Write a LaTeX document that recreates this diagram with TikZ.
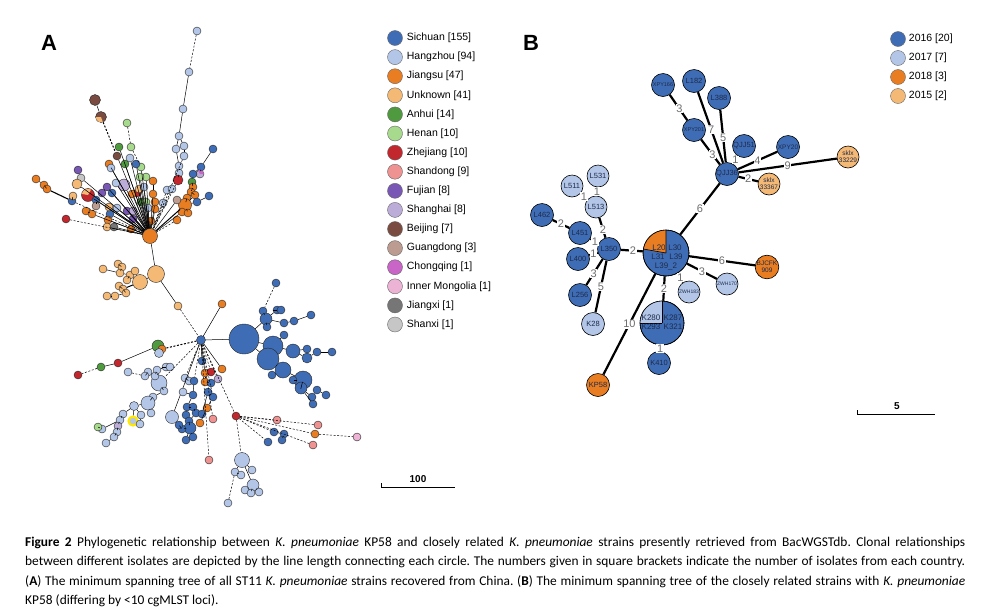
\documentclass[tikz,border=0pt]{standalone}
\usepackage{fontspec}
\setmainfont{Liberation Sans}
\newfontfamily\capfont{Carlito}
\usepackage{tikz}
\usetikzlibrary{positioning}
\definecolor{csic}{HTML}{3F6DB5}
\definecolor{chzh}{HTML}{B3C6E7}
\definecolor{cjsu}{HTML}{E87D22}
\definecolor{cunk}{HTML}{F5B976}
\definecolor{canh}{HTML}{4F9A3F}
\definecolor{chen}{HTML}{A8DA8D}
\definecolor{czhe}{HTML}{C1272D}
\definecolor{csha}{HTML}{EE9292}
\definecolor{cfuj}{HTML}{7957B5}
\definecolor{cshg}{HTML}{BBADD8}
\definecolor{cbei}{HTML}{7A4B40}
\definecolor{cgdg}{HTML}{BC9C90}
\definecolor{cchq}{HTML}{C865C6}
\definecolor{cinm}{HTML}{EDB3D4}
\definecolor{cjxi}{HTML}{767676}
\definecolor{cshx}{HTML}{C6C6C6}
\definecolor{navy}{HTML}{1E2B4A}
\definecolor{elgray}{HTML}{6E6E6E}
\begin{document}
\frenchspacing
\begin{tikzpicture}
[pa/.style={circle, draw=black!85, line width=0.4pt, inner sep=0pt, minimum size=8pt},
 dia/.style={minimum size=#1pt},
 Sic/.style={pa, fill=csic}, Hzh/.style={pa, fill=chzh}, Jsu/.style={pa, fill=cjsu},
 Unk/.style={pa, fill=cunk}, Anh/.style={pa, fill=canh}, Hen/.style={pa, fill=chen},
 Zhe/.style={pa, fill=czhe}, Sha/.style={pa, fill=csha}, Fuj/.style={pa, fill=cfuj},
 Shg/.style={pa, fill=cshg}, Bei/.style={pa, fill=cbei}, Gdg/.style={pa, fill=cgdg},
 Chq/.style={pa, fill=cchq}, Inm/.style={pa, fill=cinm}, Jxi/.style={pa, fill=cjxi},
 Shx/.style={pa, fill=cshx},
 ea/.style={line width=0.5pt},
 ed/.style={line width=0.5pt, dash pattern=on 2pt off 1.6pt},
 lgdot/.style={circle, draw=black!60, line width=0.4pt, inner sep=0pt, minimum size=15pt},
 ltext/.style={inner sep=0pt, font=\fontsize{10.5}{12}\selectfont},
 bnode/.style={circle, draw=black, line width=0.6pt, inner sep=0pt, minimum size=23pt,
   text=navy, align=center, font=\fontsize{7.5}{7.5}\selectfont},
 btext/.style={inner sep=0pt, text=navy, font=\fontsize{8}{8}\selectfont},
 blink/.style={line width=2.2pt},
 elab/.style={fill=white, inner sep=0.6pt, text=elgray, font=\fontsize{11}{11}\selectfont}]
\useasboundingbox (0pt,0pt) rectangle (987pt,-611pt);
% panel labels
\node (pA) [font=\bfseries\fontsize{22}{22}\selectfont] at (49pt,-43pt) {A};
\node (pB) [font=\bfseries\fontsize{22}{22}\selectfont] at (531pt,-43pt) {B};
% ---- panel A: upper cluster
\node (t0) [Jsu, dia=15] at (150pt,-236pt) {};
\node (t1) [Hzh] at (197pt,-31pt) {};
\node (t2) [Hzh] at (189pt,-72pt) {};
\node (t3) [Hzh] at (183pt,-109pt) {};
\node (t4) [Hzh] at (179pt,-136pt) {};
\node (t5) [Hzh] at (176pt,-149pt) {};
\node (t6) [Hzh] at (184pt,-146pt) {};
\node (t7) [Hzh] at (184pt,-156pt) {};
\node (t8) [Hzh] at (179pt,-166pt) {};
\node (t9) [Hzh] at (179pt,-173pt) {};
\node (t10) [Zhe, dia=10] at (178pt,-180pt) {};
\node (t11) [Bei, dia=11] at (95pt,-100pt) {};
\node (t12) [Bei, dia=11] at (101pt,-117pt) {};
\fill [cunk] (t12.center) -- ++(180:5.2pt) arc[start angle=180, end angle=290, radius=5.2pt] -- cycle;
\node (t13) [Bei] at (117pt,-156pt) {};
\node (t14) [Anh] at (119pt,-147pt) {};
\node (t15) [Hen] at (127pt,-123pt) {};
\node (t16) [Hen] at (131pt,-147pt) {};
\node (t17) [Hen] at (141pt,-167pt) {};
\node (t18) [Hen] at (146pt,-177pt) {};
\node (t19) [Hen] at (140pt,-177pt) {};
\node (t20) [Anh] at (125pt,-164pt) {};
\node (t21) [Sic] at (136pt,-164pt) {};
\node (t22) [Hzh] at (130pt,-158pt) {};
\node (t23) [Jsu] at (109pt,-164pt) {};
\node (t24) [Hzh] at (111pt,-168pt) {};
\node (t25) [Fuj] at (78pt,-170pt) {};
\node (t26) [Shx] at (81pt,-178pt) {};
\node (t27) [Unk, dia=10] at (77pt,-184pt) {};
\node (t28) [Jsu] at (36pt,-179pt) {};
\node (t29) [Jsu] at (44pt,-185pt) {};
\node (t30) [Jsu] at (47pt,-189pt) {};
\node (t31) [Sic] at (72pt,-201pt) {};
\node (t32) [Unk] at (73pt,-196pt) {};
\node (t33) [Zhe, dia=13] at (88pt,-195pt) {};
\fill [cunk] (t33.center) -- ++(60:6.2pt) arc[start angle=60, end angle=170, radius=6.2pt] -- cycle;
\node (t34) [Fuj] at (107pt,-187pt) {};
\node (t35) [Fuj] at (102pt,-193pt) {};
\node (t36) [Sic] at (112pt,-193pt) {};
\node (t37) [Shg, dia=12] at (124pt,-185pt) {};
\node (t38) [Hzh] at (116pt,-183pt) {};
\node (t39) [Sic] at (96pt,-200pt) {};
\node (t40) [Gdg] at (96pt,-206pt) {};
\node (t41) [Jsu] at (86pt,-211pt) {};
\node (t42) [Jsu] at (92pt,-214pt) {};
\node (t43) [Sic] at (110pt,-214pt) {};
\node (t44) [Unk] at (109pt,-207pt) {};
\node (t45) [Hzh] at (117pt,-208pt) {};
\node (t46) [Jsu] at (108pt,-220pt) {};
\node (t47) [Unk] at (107pt,-227pt) {};
\node (t48) [Jxi] at (114pt,-227pt) {};
\node (t49) [Zhe] at (66pt,-219pt) {};
\node (t50) [Jsu] at (131pt,-229pt) {};
\node (t51) [Fuj] at (127pt,-211pt) {};
\node (t52) [Fuj] at (133pt,-219pt) {};
\node (t53) [Shg] at (133pt,-211pt) {};
\node (t54) [Anh] at (141pt,-202pt) {};
\node (t55) [Hen] at (146pt,-202pt) {};
\node (t56) [Zhe] at (137pt,-193pt) {};
\node (t57) [Jsu] at (132pt,-194pt) {};
\node (t58) [Unk] at (139pt,-189pt) {};
\node (t59) [Hzh] at (144pt,-187pt) {};
\node (t60) [Jsu] at (153pt,-181pt) {};
\node (t61) [Jsu] at (153pt,-194pt) {};
\node (t62) [Jsu] at (155pt,-202pt) {};
\node (t63) [Jsu] at (155pt,-209pt) {};
\node (t64) [Hzh] at (148pt,-208pt) {};
\node (t65) [Jsu] at (151pt,-221pt) {};
\node (t66) [Hzh] at (163pt,-203pt) {};
\node (t67) [Hzh] at (167pt,-190pt) {};
\node (t68) [Hzh] at (172pt,-189pt) {};
\node (t69) [Jsu] at (177pt,-220pt) {};
\node (t70) [Sic] at (213pt,-149pt) {};
\node (t71) [Sic] at (201pt,-167pt) {};
\node (t72) [Shg] at (200pt,-174pt) {};
\fill [cchq] (t72.center) -- ++(0:3.8pt) arc[start angle=0, end angle=120, radius=3.8pt] -- cycle;
\node (t73) [Sic] at (193pt,-174pt) {};
\node (t74) [Anh] at (192pt,-182pt) {};
\node (t75) [Jsu] at (193pt,-187pt) {};
\node (t76) [Jsu] at (191pt,-192pt) {};
\node (t77) [Jsu] at (195pt,-195pt) {};
\node (t78) [Jsu] at (187pt,-198pt) {};
\node (t79) [Jsu, dia=13] at (185pt,-205pt) {};
\node (t80) [Jsu] at (182pt,-212pt) {};
\node (t81) [Jsu] at (188pt,-213pt) {};
\node (t82) [Sic] at (197pt,-202pt) {};
\node (t83) [Sic] at (209pt,-196pt) {};
\node (t84) [Gdg] at (177pt,-200pt) {};
\draw [ed] (t1) -- (t2);
\draw [ea] (t2) -- (t3);
\draw [ea] (t3) -- (t4);
\draw [ea] (t4) -- (t5);
\draw [ea] (t4) -- (t6);
\draw [ea] (t6) -- (t7);
\draw [ea] (t5) -- (t8);
\draw [ea] (t8) -- (t9);
\draw [ea] (t9) -- (t10);
\draw [ed] (t10) -- (t0);
\draw [ed] (t7) -- (t0);
\draw [ea] (t11) -- (t12);
\draw [ed, line width=1pt] (t12) -- (t13);
\draw [ea] (t13) -- (t0);
\draw [ea] (t14) -- (t0);
\draw [ed] (t15) -- (t16);
\draw [ed] (t16) -- (t17);
\draw [ea] (t17) -- (t0);
\draw [ea] (t18) -- (t0);
\draw [ea] (t19) -- (t0);
\draw [ea] (t20) -- (t0);
\draw [ea] (t21) -- (t0);
\draw [ea] (t22) -- (t0);
\draw [ea] (t23) -- (t0);
\draw [ea] (t24) -- (t0);
\draw [ea] (t25) -- (t26);
\draw [ea] (t26) -- (t0);
\draw [ea] (t27) -- (t0);
\draw [ea] (t28) -- (t29);
\draw [ea] (t29) -- (t30);
\draw [line width=1.1pt] (t30) -- (t31);
\draw [ed] (t31) -- (t0);
\draw [ea] (t32) -- (t31);
\draw [ea] (t33) -- (t0);
\draw [ea] (t34) -- (t0);
\draw [ea] (t35) -- (t34);
\draw [ea] (t36) -- (t0);
\draw [ea] (t37) -- (t0);
\draw [ea] (t38) -- (t0);
\draw [ea] (t39) -- (t0);
\draw [ea] (t40) -- (t39);
\draw [ea] (t41) -- (t42);
\draw [ea] (t42) -- (t0);
\draw [ea] (t43) -- (t0);
\draw [ea] (t44) -- (t0);
\draw [ea] (t45) -- (t0);
\draw [ea] (t46) -- (t0);
\draw [ea] (t47) -- (t0);
\draw [ea] (t48) -- (t0);
\draw [ed] (t49) -- (t0);
\draw [ea] (t50) -- (t0);
\draw [ea] (t51) -- (t0);
\draw [ea] (t52) -- (t0);
\draw [ea] (t53) -- (t0);
\draw [ea] (t54) -- (t0);
\draw [ea] (t55) -- (t0);
\draw [ea] (t56) -- (t0);
\draw [ea] (t57) -- (t0);
\draw [ea] (t58) -- (t0);
\draw [ea] (t59) -- (t0);
\draw [ea] (t60) -- (t61);
\draw [ea] (t61) -- (t0);
\draw [ea] (t62) -- (t0);
\draw [ea] (t63) -- (t0);
\draw [ea] (t64) -- (t0);
\draw [ea] (t65) -- (t0);
\draw [ed] (t66) -- (t0);
\draw [ed] (t67) -- (t0);
\draw [ed] (t68) -- (t0);
\draw [ed] (t69) -- (t0);
\draw [ea] (t70) -- (t71);
\draw [ea] (t71) -- (t73);
\draw [ea] (t72) -- (t71);
\draw [ea] (t73) -- (t74);
\draw [ea] (t74) -- (t75);
\draw [ea] (t75) -- (t76);
\draw [ea] (t76) -- (t77);
\draw [ea] (t77) -- (t79);
\draw [ea] (t78) -- (t79);
\draw [line width=1pt] (t79) -- (t0);
\draw [ea] (t80) -- (t0);
\draw [ea] (t81) -- (t79);
\draw [ea] (t82) -- (t79);
\draw [ea] (t83) -- (t82);
\draw [ea] (t84) -- (t0);
% ---- panel A: unknown cluster
\node (u0) [Unk, dia=17] at (156pt,-274pt) {};
\node (u1) [Unk, dia=15] at (140pt,-282pt) {};
\node (u2) [Unk] at (103pt,-269pt) {};
\node (u3) [Unk] at (118pt,-264pt) {};
\node (u4) [Unk] at (122pt,-267pt) {};
\node (u5) [Unk] at (120pt,-273pt) {};
\node (u6) [Unk] at (130pt,-275pt) {};
\node (u7) [Unk] at (127pt,-280pt) {};
\node (u8) [Unk] at (135pt,-271pt) {};
\node (u10) [Unk] at (119pt,-286pt) {};
\node (u11) [Unk] at (123pt,-289pt) {};
\node (u12) [Unk] at (126pt,-293pt) {};
\node (u13) [Unk] at (107pt,-296pt) {};
\node (u14) [Unk] at (115pt,-296pt) {};
\node (u15) [Unk] at (178pt,-306pt) {};
\draw [ea] (t0) -- (u0);
\draw [ea] (u0) -- (u1);
\draw [ea] (u1) -- (u6);
\draw [ea] (u6) -- (u5);
\draw [ea] (u5) -- (u4);
\draw [ea] (u4) -- (u3);
\draw [ea] (u5) -- (u2);
\draw [ea] (u6) -- (u7);
\draw [ea] (u1) -- (u8);
\draw [line width=1pt] (u1) -- (u11);
\draw [ea] (u11) -- (u10);
\draw [ea] (u11) -- (u12);
\draw [ea] (u12) -- (u14);
\draw [ea] (u14) -- (u13);
\draw [ea] (u0) -- (u15);
% ---- panel A: lower hub and clusters
\node (m0) [Sic, dia=9] at (201pt,-340pt) {};
\draw [ed] (u15) -- (m0);
\node (s0) [Jsu] at (222pt,-304pt) {};
\node (s1) [Sic, dia=30] at (244pt,-339pt) {};
\node (s2) [Sic] at (263pt,-311pt) {};
\node (s3) [Sic, dia=12] at (266pt,-319pt) {};
\node (s4) [Sic] at (277pt,-310pt) {};
\node (s5) [Sic] at (281pt,-310pt) {};
\node (s6) [Sic] at (284pt,-323pt) {};
\node (s7) [Sic] at (294pt,-321pt) {};
\node (s8) [Sic] at (311pt,-315pt) {};
\node (s9) [Sic] at (267pt,-327pt) {};
\node (s10) [Sic, dia=20] at (273pt,-346pt) {};
\node (s11) [Sic, dia=22] at (268pt,-359pt) {};
\node (s12) [Sic] at (284pt,-335pt) {};
\node (s13) [Sic, dia=14] at (293pt,-351pt) {};
\node (s14) [Sic, dia=10] at (307pt,-358pt) {};
\node (s15) [Sic] at (317pt,-352pt) {};
\node (s16) [Sic] at (332pt,-352pt) {};
\node (s17) [Sic] at (307pt,-349pt) {};
\node (s18) [Sic, dia=16] at (283pt,-370pt) {};
\node (s19) [Sic] at (272pt,-375pt) {};
\node (s20) [Sic, dia=18] at (303pt,-380pt) {};
\node (s21) [Sic, dia=12] at (301pt,-388pt) {};
\node (s22) [Sic] at (317pt,-390pt) {};
\node (s23) [Sic] at (326pt,-395pt) {};
\node (s24) [Sic] at (313pt,-404pt) {};
\node (s25) [Sic] at (312pt,-397pt) {};
\node (s26) [Sic] at (293pt,-380pt) {};
\node (s27) [Sic] at (276pt,-283pt) {};
\draw [ea] (m0) -- (s0);
\draw [ea] (m0) -- (s1);
\draw [ea] (s1) -- (s3);
\draw [ea] (s3) -- (s2);
\draw [ea] (s3) -- (s4);
\draw [ea] (s4) -- (s5);
\draw [ea] (s3) -- (s6);
\draw [ea] (s6) -- (s7);
\draw [ea] (s7) -- (s8);
\draw [ea] (s3) -- (s9);
\draw [ea] (s1) -- (s10);
\draw [ea] (s10) -- (s12);
\draw [ea] (s10) -- (s13);
\draw [ea] (s13) -- (s17);
\draw [ea] (s13) -- (s14);
\draw [ea] (s14) -- (s15);
\draw [ea] (s15) -- (s16);
\draw [ea] (s1) -- (s11);
\draw [ea] (s11) -- (s18);
\draw [ea] (s18) -- (s19);
\draw [ea] (s18) -- (s20);
\draw [ea] (s20) -- (s21);
\draw [ea] (s20) -- (s26);
\draw [ea] (s21) -- (s24);
\draw [ea] (s21) -- (s25);
\draw [ea] (s25) -- (s22);
\draw [ea] (s22) -- (s23);
\draw [ed] (s27) -- (s2);
% left branch
\node (l1) [Anh, dia=12] at (158pt,-346pt) {};
\node (l2) [Jsu] at (162pt,-349pt) {};
\node (l3) [Hzh, dia=9] at (159pt,-353pt) {};
\node (l4) [Zhe] at (118pt,-363pt) {};
\node (l5) [Anh] at (101pt,-367pt) {};
\node (l6) [Zhe] at (78pt,-375pt) {};
\draw [ed, line width=1pt] (m0) -- (l2);
\draw [ea] (l1) -- (l4);
\draw [ea] (l4) -- (l5);
\draw [ed] (l5) -- (l6);
% Hangzhou cluster
\node (h1) [Hzh, dia=16] at (159pt,-383pt) {};
\node (h2) [Hzh] at (157pt,-370pt) {};
\node (h3) [Hzh] at (166pt,-367pt) {};
\node (h4) [Hzh] at (170pt,-367pt) {};
\node (h5) [Hzh] at (148pt,-372pt) {};
\node (h6) [Hzh] at (145pt,-376pt) {};
\node (h7) [Hzh] at (155pt,-376pt) {};
\node (h8) [Hzh] at (164pt,-391pt) {};
\node (h9) [Hzh] at (153pt,-397pt) {};
\node (h10) [Hzh, dia=14] at (148pt,-403pt) {};
\node (h11) [Hzh, dia=9] at (134pt,-406pt) {};
\node (h12) [Hzh] at (128pt,-372pt) {};
\node (h13) [Hzh] at (151pt,-413pt) {};
\node (h14) [Hzh] at (141pt,-415pt) {};
\node (h15) [Hzh, dia=9, draw=yellow!90!orange, line width=2.2pt] at (133pt,-421pt) {};
\node (h16) [Hzh] at (140pt,-424pt) {};
\node (h17) [Hzh] at (123pt,-414pt) {};
\node (h18) [Hzh] at (120pt,-420pt) {};
\node (h19) [Shg] at (118pt,-426pt) {};
\node (h20) [Hzh] at (117pt,-432pt) {};
\node (h21) [Hzh] at (114pt,-437pt) {};
\node (h22) [Hzh] at (106pt,-443pt) {};
\node (h23) [Hzh] at (102pt,-429pt) {};
\node (h24) [Hen] at (98pt,-427pt) {};
\node (h25) [Hzh, dia=13] at (172pt,-417pt) {};
\node (h26) [Hzh] at (185pt,-378pt) {};
\node (h27) [Hzh] at (189pt,-381pt) {};
\draw [ed] (m0) -- (h1);
\draw [ea] (h1) -- (h2);
\draw [ea] (h2) -- (h3);
\draw [ea] (h3) -- (h4);
\draw [ea] (h2) -- (h7);
\draw [ea] (h7) -- (h5);
\draw [ea] (h5) -- (h6);
\draw [ed] (h6) -- (h12);
\draw [ea] (h1) -- (h8);
\draw [ea] (h8) -- (h9);
\draw [ea] (h9) -- (h10);
\draw [ea] (h10) -- (h11);
\draw [ea] (h10) -- (h13);
\draw [ea] (h11) -- (h14);
\draw [ea] (h14) -- (h16);
\draw [ea] (h11) -- (h15);
\draw [ea] (h11) -- (h17);
\draw [ea] (h17) -- (h18);
\draw [ea] (h18) -- (h19);
\draw [ea] (h19) -- (h20);
\draw [ea] (h20) -- (h21);
\draw [ea] (h21) -- (h22);
\draw [ea] (h18) -- (h23);
\draw [ed] (h23) -- (h24);
\draw [ea] (m0) -- (h25);
\draw [ed] (m0) -- (h26);
\draw [ea] (h26) -- (h27);
% Sichuan cluster below the hub
\node (b1) [Sic] at (202pt,-361pt) {};
\node (b2) [Jsu] at (205pt,-373pt) {};
\node (b3) [Zhe] at (211pt,-372pt) {};
\node (b4) [Jsu] at (222pt,-369pt) {};
\node (b5) [Shg] at (218pt,-379pt) {};
\node (b6) [Jsu] at (205pt,-382pt) {};
\node (b7) [Sic] at (211pt,-383pt) {};
\node (b8) [Sic] at (194pt,-381pt) {};
\node (b9) [Sic] at (213pt,-397pt) {};
\node (b10) [Sic] at (208pt,-392pt) {};
\node (b11) [Sic] at (193pt,-395pt) {};
\node (b12) [Sic] at (187pt,-407pt) {};
\node (b13) [Sic] at (193pt,-407pt) {};
\node (b14) [Sic] at (196pt,-413pt) {};
\node (b15) [Sic] at (186pt,-415pt) {};
\node (b16) [Sic] at (189pt,-421pt) {};
\node (b17) [Sic, dia=12] at (190pt,-428pt) {};
\node (b18) [Sic] at (182pt,-429pt) {};
\node (b19) [Sic] at (186pt,-440pt) {};
\node (b20) [Sic] at (193pt,-437pt) {};
\node (b21) [Sic] at (179pt,-425pt) {};
\node (b22) [Jsu] at (200pt,-423pt) {};
\node (b23) [Jsu] at (207pt,-408pt) {};
\node (b24) [Sic] at (202pt,-414pt) {};
\node (b25) [Sha] at (213pt,-419pt) {};
\node (b26) [Sha] at (209pt,-460pt) {};
\node (b27) [Hzh] at (183pt,-392pt) {};
\draw [ea] (m0) -- (b1);
\draw [ea] (m0) -- (b2);
\draw [ed] (m0) -- (b3);
\draw [ea] (m0) -- (b4);
\draw [ed] (m0) -- (b5);
\draw [ed] (m0) -- (b8);
\draw [ed] (m0) -- (b9);
\draw [ea] (b2) -- (b6);
\draw [ea] (b6) -- (b7);
\draw [ea] (b8) -- (b11);
\draw [ea] (b11) -- (b12);
\draw [ea] (b12) -- (b13);
\draw [ea] (b13) -- (b14);
\draw [ea] (b14) -- (b16);
\draw [ea] (b16) -- (b17);
\draw [ea] (b17) -- (b18);
\draw [ea] (b18) -- (b21);
\draw [ea] (b17) -- (b19);
\draw [ea] (b17) -- (b20);
\draw [ea] (b12) -- (b15);
\draw [ea] (b11) -- (b27);
\draw [ea] (b9) -- (b23);
\draw [ea] (b23) -- (b22);
\draw [ea] (b9) -- (b10);
\draw [ea] (b10) -- (b24);
\draw [ed] (m0) -- (b25);
\draw [ed] (m0) -- (b26);
% red node with dashed branches
\node (r0) [Zhe] at (236pt,-416pt) {};
\node (r1) [Sha] at (277pt,-420pt) {};
\node (r2) [Sha] at (318pt,-425pt) {};
\node (r3) [Jsu] at (315pt,-434pt) {};
\node (r4) [Inm] at (357pt,-437pt) {};
\node (r5) [Sha] at (313pt,-445pt) {};
\node (r6) [Sic] at (274pt,-432pt) {};
\node (r7) [Sic] at (284pt,-434pt) {};
\node (r8) [Sic] at (282pt,-440pt) {};
\node (r9) [Sic] at (268pt,-442pt) {};
\draw [ed] (m0) -- (r0);
\draw [ed] (r0) -- (r1);
\draw [ed] (r0) -- (r2);
\draw [ed] (r0) -- (r3);
\draw [ed] (r3) -- (r4);
\draw [ed] (r0) -- (r5);
\draw [ed] (r0) -- (r6);
\draw [ea] (r6) -- (r7);
\draw [ea] (r7) -- (r8);
\draw [ed] (r0) -- (r9);
\node (q1) [Hzh, dia=15] at (242pt,-460pt) {};
\node (q2) [Hzh] at (235pt,-472pt) {};
\node (q3) [Hzh] at (241pt,-475pt) {};
\node (q4) [Hzh] at (252pt,-470pt) {};
\node (q5) [Hzh, dia=12] at (253pt,-485pt) {};
\node (q6) [Hzh] at (245pt,-490pt) {};
\node (q7) [Hzh] at (251pt,-493pt) {};
\node (q8) [Hzh] at (259pt,-492pt) {};
\node (q9) [Hzh] at (228pt,-503pt) {};
\draw [ed] (r0) -- (q1);
\draw [ea] (q1) -- (q2);
\draw [ea] (q2) -- (q3);
\draw [ea] (q1) -- (q4);
\draw [ea] (q1) -- (q5);
\draw [ea] (q5) -- (q6);
\draw [ea] (q5) -- (q7);
\draw [ea] (q5) -- (q8);
\draw [ed] (q2) -- (q9);
% scale bar A
\draw [line width=0.8pt] (381pt,-483pt) -- (381pt,-487pt) -- (455pt,-487pt);
\node (sA) [font=\bfseries\fontsize{10}{10}\selectfont] at (418pt,-479pt) {100};
% legend A
\node (lg1) [lgdot, fill=csic] at (395pt,-38pt) {};
\node (lg2) [lgdot, fill=chzh] at (395pt,-57.1pt) {};
\node (lg3) [lgdot, fill=cjsu] at (395pt,-76.2pt) {};
\node (lg4) [lgdot, fill=cunk] at (395pt,-95.3pt) {};
\node (lg5) [lgdot, fill=canh] at (395pt,-114.4pt) {};
\node (lg6) [lgdot, fill=chen] at (395pt,-133.5pt) {};
\node (lg7) [lgdot, fill=czhe] at (395pt,-152.6pt) {};
\node (lg8) [lgdot, fill=csha] at (395pt,-171.7pt) {};
\node (lg9) [lgdot, fill=cfuj] at (395pt,-190.8pt) {};
\node (lg10) [lgdot, fill=cshg] at (395pt,-209.9pt) {};
\node (lg11) [lgdot, fill=cbei] at (395pt,-229pt) {};
\node (lg12) [lgdot, fill=cgdg] at (395pt,-248.1pt) {};
\node (lg13) [lgdot, fill=cchq] at (395pt,-267.2pt) {};
\node (lg14) [lgdot, fill=cinm] at (395pt,-286.3pt) {};
\node (lg15) [lgdot, fill=cjxi] at (395pt,-305.4pt) {};
\node (lg16) [lgdot, fill=cshx] at (395pt,-324.5pt) {};
\node (lt1) [ltext, right=4pt of lg1] {Sichuan [155]};
\node (lt2) [ltext, right=4pt of lg2] {Hangzhou [94]};
\node (lt3) [ltext, right=4pt of lg3] {Jiangsu [47]};
\node (lt4) [ltext, right=4pt of lg4] {Unknown [41]};
\node (lt5) [ltext, right=4pt of lg5] {Anhui [14]};
\node (lt6) [ltext, right=4pt of lg6] {Henan [10]};
\node (lt7) [ltext, right=4pt of lg7] {Zhejiang [10]};
\node (lt8) [ltext, right=4pt of lg8] {Shandong [9]};
\node (lt9) [ltext, right=4pt of lg9] {Fujian [8]};
\node (lt10) [ltext, right=4pt of lg10] {Shanghai [8]};
\node (lt11) [ltext, right=4pt of lg11] {Beijing [7]};
\node (lt12) [ltext, right=4pt of lg12] {Guangdong [3]};
\node (lt13) [ltext, right=4pt of lg13] {Chongqing [1]};
\node (lt14) [ltext, right=4pt of lg14] {Inner Mongolia [1]};
\node (lt15) [ltext, right=4pt of lg15] {Jiangxi [1]};
\node (lt16) [ltext, right=4pt of lg16] {Shanxi [1]};
% ---- panel B
\node (cen) [bnode, fill=csic, minimum size=46pt] at (666pt,-253pt) {};
\fill [cjsu] (cen.center) -- ++(90:23pt) arc[start angle=90, end angle=170, radius=23pt] -- cycle;
\draw [line width=0.6pt] (cen.center) -- ++(90:23pt) (cen.center) -- ++(170:23pt);
\draw [line width=0.6pt] (cen.center) circle[radius=23pt];
\node (cL20) [btext] at (659pt,-248pt) {L20};
\node (cL30) [btext] at (675pt,-248pt) {L30};
\node (cL31) [btext] at (658pt,-257pt) {L31};
\node (cL39) [btext] at (676pt,-257pt) {L39};
\node (cL392) [btext] at (666pt,-266pt) {L39\_2};
\node (kcl) [bnode, fill=csic, minimum size=44pt] at (662pt,-323pt) {};
\fill [chzh] (kcl.center) -- ++(90:22pt) arc[start angle=90, end angle=180, radius=22pt] -- cycle;
\draw [line width=0.6pt] (kcl.center) -- ++(90:22pt) (kcl.center) -- ++(180:22pt);
\draw [line width=0.6pt] (kcl.center) circle[radius=22pt];
\node (k280) [btext] at (651pt,-318pt) {K280};
\node (k287) [btext] at (673pt,-318pt) {K287};
\node (k293) [btext] at (651pt,-327pt) {K293};
\node (k321) [btext] at (673pt,-327pt) {K321};
\node (xpy166) [bnode, fill=csic, font=\fontsize{5.5}{5.5}\selectfont] at (663pt,-85pt) {XPY166};
\node (l182) [bnode, fill=csic] at (694pt,-81pt) {L182};
\node (l388) [bnode, fill=csic] at (719pt,-98pt) {L388};
\node (xpy201) [bnode, fill=csic, font=\fontsize{5.5}{5.5}\selectfont] at (694pt,-130pt) {XPY201};
\node (qjj51) [bnode, fill=csic] at (744pt,-146pt) {QJJ51};
\node (xpy20) [bnode, fill=csic, font=\fontsize{6.5}{6.5}\selectfont] at (788pt,-147pt) {XPY20};
\node (sk229) [bnode, fill=cunk, minimum size=22pt, font=\fontsize{6.5}{7}\selectfont] at (848pt,-157pt) {sklx\\33229};
\node (qjj36) [bnode, fill=csic] at (727pt,-174pt) {QJJ36};
\node (sk367) [bnode, fill=cunk, minimum size=22pt, font=\fontsize{6.5}{7}\selectfont] at (769pt,-184pt) {sklx\\33367};
\node (l531) [bnode, fill=chzh, minimum size=22pt] at (598pt,-176pt) {L531};
\node (l511) [bnode, fill=chzh, minimum size=22pt] at (572pt,-186pt) {L511};
\node (l513) [bnode, fill=chzh, minimum size=22pt] at (596pt,-207pt) {L513};
\node (l462) [bnode, fill=csic] at (542pt,-215pt) {L462};
\node (l451) [bnode, fill=csic] at (580pt,-233pt) {L451};
\node (l350) [bnode, fill=csic] at (609pt,-249pt) {L350};
\node (l400) [bnode, fill=csic] at (578pt,-259pt) {L400};
\node (l256) [bnode, fill=csic] at (580pt,-295pt) {L256};
\node (k28) [bnode, fill=chzh] at (593pt,-324pt) {K28};
\node (bjcfk) [bnode, fill=cjsu, font=\fontsize{6.5}{7}\selectfont] at (767pt,-267pt) {BJCFK\\909};
\node (zwh170) [bnode, fill=chzh, minimum size=22pt, font=\fontsize{5}{5}\selectfont] at (727pt,-284pt) {ZWH170};
\node (zwh183) [bnode, fill=chzh, minimum size=22pt, font=\fontsize{5}{5}\selectfont] at (689pt,-292pt) {ZWH183};
\node (k410) [bnode, fill=csic] at (659pt,-363pt) {K410};
\node (kp58) [bnode, fill=cjsu] at (598pt,-385pt) {KP58};
\draw [blink] (xpy166) -- node[pos=0.55, elab] {3} (xpy201);
\draw [blink] (l182) -- node[pos=0.53, elab] {7} (qjj36);
\draw [blink] (l388) -- node[pos=0.53, elab] {5} (qjj36);
\draw [blink] (xpy201) -- node[pos=0.6, elab] {3} (qjj36);
\draw [blink] (qjj51) -- node[pos=0.5, elab] {1} (qjj36);
\draw [blink] (xpy20) -- node[pos=0.5, elab] {4} (qjj36);
\draw [blink] (sk229) -- node[pos=0.5, elab] {9} (qjj36);
\draw [blink] (sk367) -- node[pos=0.5, elab] {2} (qjj36);
\draw [blink] (qjj36) -- node[pos=0.5, elab] {6} (cen);
\draw [blink] (l531) -- node[pos=0.5, elab] {1} (l513);
\draw [blink] (l511) -- node[pos=0.5, elab] {1} (l513);
\draw [blink] (l513) -- node[pos=0.6, elab] {2} (l350);
\draw [blink] (l462) -- node[pos=0.5, elab] {2} (l451);
\draw [blink] (l451) -- node[pos=0.55, elab] {1} (l350);
\draw [blink] (l400) -- node[pos=0.5, elab] {1} (l350);
\draw [blink] (l350) -- node[pos=0.55, elab] {2} (cen);
\draw [blink] (l256) -- node[pos=0.45, elab] {3} (l350);
\draw [blink] (k28) -- node[pos=0.5, elab] {5} (l350);
\draw [blink] (cen) -- node[pos=0.5, elab] {6} (bjcfk);
\draw [blink] (cen) -- node[pos=0.5, elab] {3} (zwh170);
\draw [blink] (cen) -- node[pos=0.5, elab] {1} (zwh183);
\draw [blink] (cen) -- node[pos=0.5, elab] {2} (kcl);
\draw [blink] (cen) -- node[pos=0.5, elab] {10} (kp58);
\draw [blink] (kcl) -- node[pos=0.5, elab] {1} (k410);
% scale bar B
\draw [line width=0.8pt] (857pt,-410pt) -- (857pt,-414pt) -- (935pt,-414pt);
\node (sB) [font=\bfseries\fontsize{10}{10}\selectfont] at (897pt,-406pt) {5};
% legend B
\node (yg1) [lgdot, fill=csic] at (898pt,-39pt) {};
\node (yg2) [lgdot, fill=chzh] at (898pt,-58pt) {};
\node (yg3) [lgdot, fill=cjsu] at (898pt,-77pt) {};
\node (yg4) [lgdot, fill=cunk] at (898pt,-96pt) {};
\node (yt1) [ltext, right=3pt of yg1] {2016 [20]};
\node (yt2) [ltext, right=3pt of yg2] {2017 [7]};
\node (yt3) [ltext, right=3pt of yg3] {2018 [3]};
\node (yt4) [ltext, right=3pt of yg4] {2015 [2]};
% caption
\node (cap) [anchor=north west, text width=940pt, align=justify, inner sep=0pt,
  font=\capfont\fontsize{13.4}{19.3}\selectfont] at (25pt,-537pt)
  {\textbf{Figure 2} Phylogenetic relationship between \textit{K. pneumoniae} KP58 and closely related \textit{K. pneumoniae} strains presently retrieved from BacWGSTdb. Clonal relationships\linebreak
  between different isolates are depicted by the line length connecting each circle. The numbers given in square brackets indicate the number of isolates from each country.\linebreak
  (\textbf{A}) The minimum spanning tree of all ST11 \textit{K. pneumoniae} strains recovered from China. (\textbf{B}) The minimum spanning tree of the closely related strains with \textit{K. pneumoniae}\linebreak
  KP58 (differing by <10 cgMLST loci).};
\end{tikzpicture}
\end{document}
